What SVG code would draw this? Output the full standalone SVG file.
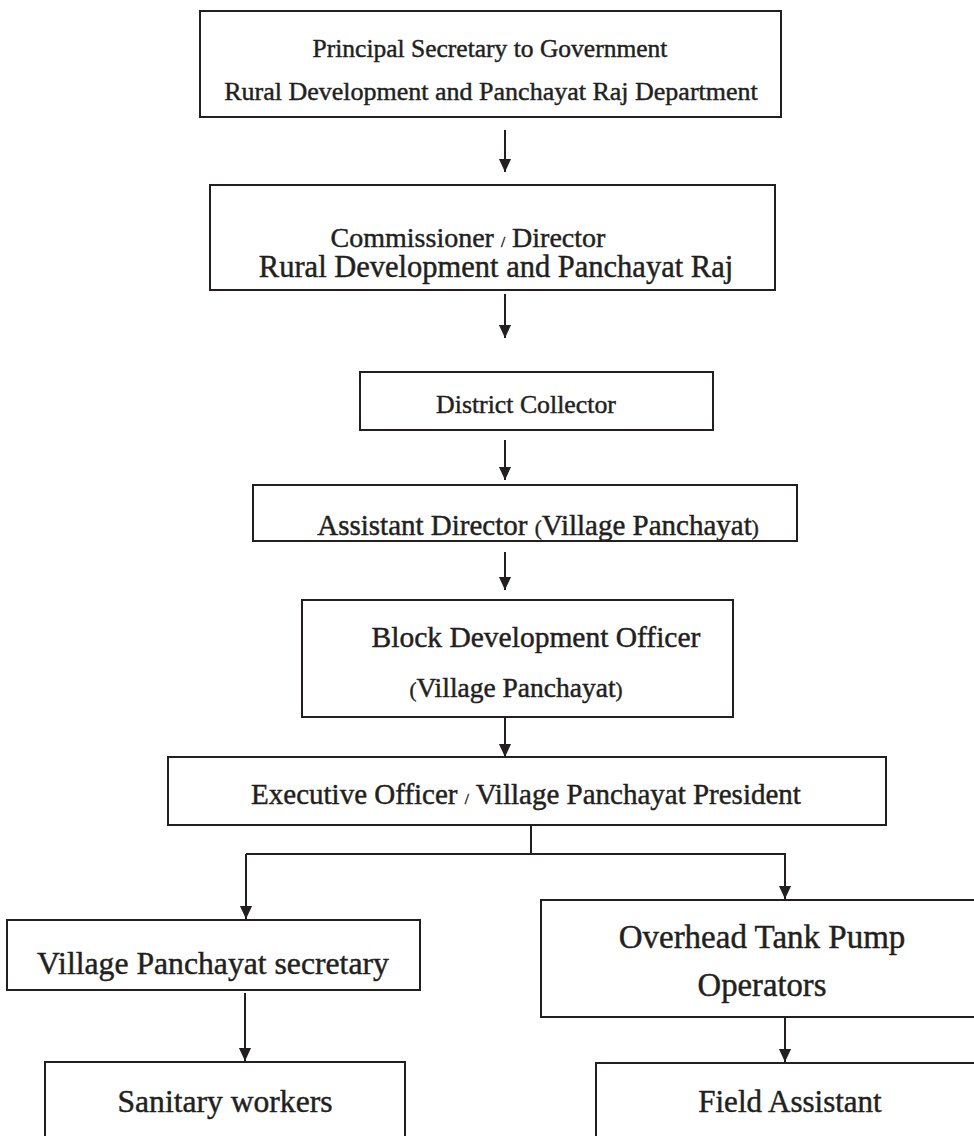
<svg xmlns="http://www.w3.org/2000/svg" width="974" height="1136" viewBox="0 0 974 1136">
<style>
.box{fill:#fff;stroke:#231f20;stroke-width:2}
text{font-family:"Liberation Serif","Times New Roman",serif;fill:#231f20;stroke:#231f20;stroke-width:0.45;text-anchor:middle}
.sm{font-size:15px}
.pa{font-size:21px}
.c{fill:none;stroke:#231f20;stroke-width:2}
</style>
<defs>
<marker id="arr" markerUnits="userSpaceOnUse" markerWidth="14" markerHeight="16" refX="15" refY="7" orient="auto" viewBox="0 0 16 14">
<path d="M0,0 L15,7 L0,14 Z" fill="#231f20"/>
</marker>
</defs>
<rect width="974" height="1136" fill="#fff"/>
<g id="connectors">
<line class="c" x1="505" y1="130" x2="505" y2="172" marker-end="url(#arr)"/>
<line class="c" x1="505" y1="294" x2="505" y2="338" marker-end="url(#arr)"/>
<line class="c" x1="505" y1="440" x2="505" y2="480" marker-end="url(#arr)"/>
<line class="c" x1="505" y1="552" x2="505" y2="590" marker-end="url(#arr)"/>
<line class="c" x1="505" y1="717" x2="505" y2="757" marker-end="url(#arr)"/>
<line class="c" x1="531" y1="817" x2="531" y2="854"/>
<polyline class="c" points="246,854 785,854"/>
<line class="c" x1="246" y1="854" x2="246" y2="919" marker-end="url(#arr)"/>
<line class="c" x1="785" y1="853" x2="785" y2="899" marker-end="url(#arr)"/>
<line class="c" x1="245" y1="993" x2="245" y2="1061" marker-end="url(#arr)"/>
<line class="c" x1="785" y1="1006" x2="785" y2="1062" marker-end="url(#arr)"/>
</g>
<g id="n1">
<rect class="box" x="200" y="11" width="581" height="106"/>
<text x="490" y="57" font-size="25.5">Principal Secretary to Government</text>
<text x="491" y="100" font-size="26">Rural Development and Panchayat Raj Department</text>
</g>
<g id="n2">
<rect class="box" x="210" y="185" width="565" height="105"/>
<text x="468" y="247" font-size="28">Commissioner <tspan class="sm">/</tspan> Director</text>
<text x="496" y="277" font-size="30.5">Rural Development and Panchayat Raj</text>
</g>
<g id="n3">
<rect class="box" x="360" y="372" width="353" height="58"/>
<text x="526" y="413" font-size="25.8">District Collector</text>
</g>
<g id="n4">
<rect class="box" x="253" y="485" width="544" height="56"/>
<text x="538" y="535" font-size="29">Assistant Director <tspan class="pa">(</tspan>Village Panchayat<tspan class="pa">)</tspan></text>
</g>
<g id="n5">
<rect class="box" x="302" y="600" width="431" height="117"/>
<text x="536" y="647" font-size="29.5">Block Development Officer</text>
<text x="516" y="697" font-size="27.5"><tspan class="pa">(</tspan>Village Panchayat<tspan class="pa">)</tspan></text>
</g>
<g id="n6">
<rect class="box" x="168" y="757" width="718" height="68"/>
<text x="526" y="804" font-size="29">Executive Officer <tspan class="sm">/</tspan> Village Panchayat President</text>
</g>
<g id="n7">
<rect class="box" x="7" y="920" width="413" height="70"/>
<text x="213" y="974" font-size="31.7">Village Panchayat secretary</text>
</g>
<g id="n8">
<rect class="box" x="541" y="900" width="440" height="117"/>
<text x="762" y="948" font-size="33">Overhead Tank Pump</text>
<text x="762" y="996" font-size="32.7">Operators</text>
</g>
<g id="n9">
<rect class="box" x="45" y="1062" width="360" height="80"/>
<text x="225" y="1112" font-size="31.6">Sanitary workers</text>
</g>
<g id="n10">
<rect class="box" x="596" y="1063" width="390" height="80"/>
<text x="790" y="1112" font-size="31">Field Assistant</text>
</g>
</svg>
